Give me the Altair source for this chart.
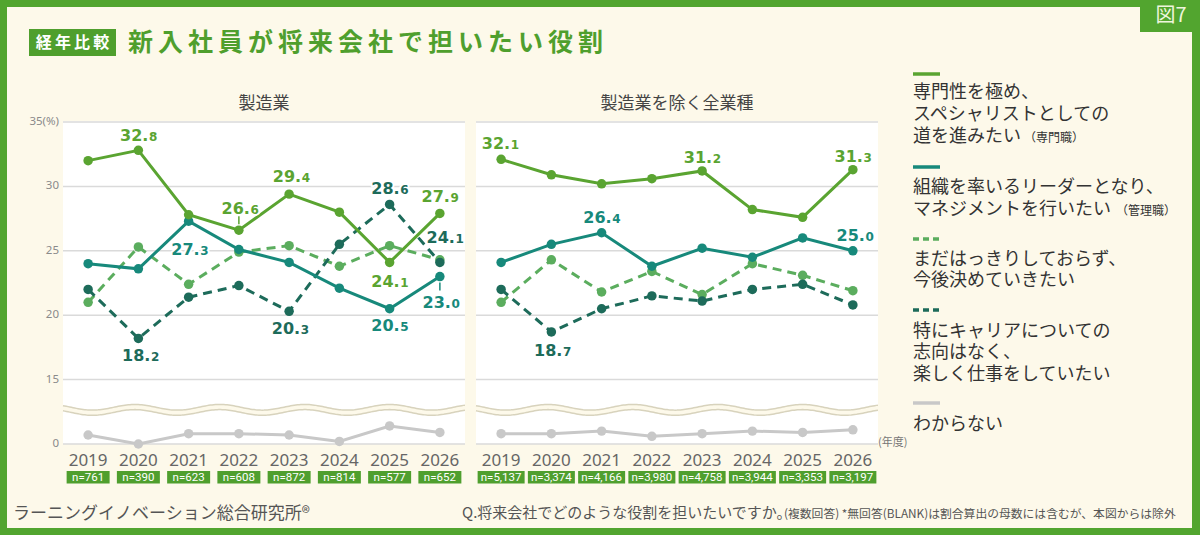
import altair as alt
import numpy as np
import pandas as pd

# ---- data -------------------------------------------------------------
YEARS = [2019, 2020, 2021, 2022, 2023, 2024, 2025, 2026]

# 製造業
MFG_SPECIALIST = [32.0, 32.8, 27.8, 26.6, 29.4, 28.0, 24.1, 27.9]
MFG_MANAGER = [24.0, 23.6, 27.3, 25.1, 24.1, 22.1, 20.5, 23.0]
MFG_UNDECIDED = [21.0, 25.3, 22.4, 24.9, 25.4, 23.8, 25.4, 24.3]
MFG_NO_PREF = [22.0, 18.2, 21.4, 22.3, 20.3, 25.5, 28.6, 24.1]
MFG_UNKNOWN = [0.7, 0.0, 0.8, 0.8, 0.7, 0.2, 1.4, 0.9]
MFG_N = ["n=761", "n=390", "n=623", "n=608", "n=872", "n=814", "n=577", "n=652"]

# 製造業を除く全業種
OTH_SPECIALIST = [32.1, 30.9, 30.2, 30.6, 31.2, 28.2, 27.6, 31.3]
OTH_MANAGER = [24.1, 25.5, 26.4, 23.8, 25.2, 24.5, 26.0, 25.0]
OTH_UNDECIDED = [21.0, 24.3, 21.8, 23.4, 21.6, 24.0, 23.1, 21.9]
OTH_NO_PREF = [22.0, 18.7, 20.5, 21.5, 21.1, 22.0, 22.4, 20.8]
OTH_UNKNOWN = [0.8, 0.8, 1.0, 0.6, 0.8, 1.0, 0.9, 1.1]
OTH_N = ["n=5,137", "n=3,374", "n=4,166", "n=3,980", "n=4,758", "n=3,944", "n=3,353", "n=3,197"]

Y_TICKS = [0, 15, 20, 25, 30, 35]
Y_TICK_LABELS = ["0", "15", "20", "25", "30", "35(%)"]

SERIES_ORDER = ["unknown", "undecided", "no_pref", "manager", "specialist"]

# ---- styles -----------------------------------------------------------
BG = "#fdf9ea"
FRAME = "#52a52f"
TITLE_GREEN = "#4f9f2d"
COLORS = {
    "specialist": "#5aa431",
    "manager": "#17897b",
    "undecided": "#5bad5e",
    "no_pref": "#1d6b5a",
    "unknown": "#c8c8c8",
}
DASHES = {"undecided": [9, 6], "no_pref": [9, 6]}
JP = "Noto Sans CJK JP"
NUM = "DejaVu Sans"

# broken axis: values below 10 stay as they are, 15..35 shift down by 10
BREAK = "datum.value < 10 ? datum.value : datum.value - 10"

rows = []
for panel, table in [
    ("mfg", {"specialist": MFG_SPECIALIST, "manager": MFG_MANAGER, "undecided": MFG_UNDECIDED,
             "no_pref": MFG_NO_PREF, "unknown": MFG_UNKNOWN}),
    ("oth", {"specialist": OTH_SPECIALIST, "manager": OTH_MANAGER, "undecided": OTH_UNDECIDED,
             "no_pref": OTH_NO_PREF, "unknown": OTH_UNKNOWN}),
]:
    for key, vals in table.items():
        for yr, v in zip(YEARS, vals):
            rows.append({"panel": panel, "series": key, "year": yr, "value": v})
df = pd.DataFrame(rows)

ticks_df = pd.DataFrame({"value": Y_TICKS, "label": Y_TICK_LABELS})
ONE = pd.DataFrame({"k": [0]})

# decorative wavy break between 0 and 15
wave_t = np.linspace(2018.5, 2026.5, 241)
wave_phase = 2 * np.pi * (wave_t - 2019.93) / 1.69
wave_df = pd.DataFrame({
    "t": wave_t,
    "top": 2.85 + 0.22 * np.cos(wave_phase),
    "bot": 2.45 + 0.22 * np.cos(wave_phase),
})

# value labels: (series, year, dx, dy) relative to the point
LABELS = {
    "mfg": [
        ("specialist", 2020, 0, -15), ("manager", 2021, 1, 28), ("specialist", 2022, 1, -22),
        ("specialist", 2023, 2, -18), ("no_pref", 2025, 0, -16), ("specialist", 2026, 0, -17),
        ("no_pref", 2026, 5, -25), ("specialist", 2025, 0, 19), ("manager", 2026, 1, 25),
        ("no_pref", 2020, 2, 17), ("no_pref", 2023, 1, 17), ("manager", 2025, 0, 16),
    ],
    "oth": [
        ("specialist", 2019, -1, -16), ("specialist", 2023, 0, -14), ("specialist", 2026, 0, -14),
        ("manager", 2021, 0, -16), ("manager", 2026, 2, -16), ("no_pref", 2020, 1, 18),
    ],
}
# short leader ticks: (series, year, from offset, to offset)
LEADERS = {"mfg": [("specialist", 2022, -6, -14), ("manager", 2026, 6, 14)], "oth": []}


def text_at(text, x, y, size, color, align="left", weight="normal", font=JP, baseline="middle"):
    return alt.Chart(ONE).mark_text(
        text=text, align=align, baseline=baseline, fontSize=size, color=color,
        fontWeight=weight, font=font,
    ).encode(x=alt.value(x), y=alt.value(y))


def rect_at(x, x2, y, y2, color):
    return alt.Chart(ONE).mark_rect(color=color).encode(
        x=alt.value(x), x2=alt.value(x2), y=alt.value(y), y2=alt.value(y2))


def panel(pkey, x0, x1, title, title_x, n_labels, box_w, show_y):
    xs = alt.Scale(domain=[2018.5, 2026.5], range=[x0, x1], nice=False, zero=False)
    ys = alt.Scale(domain=[0, 25], range=[444, 122], nice=False, zero=False)
    X = alt.X("year:Q", scale=xs, axis=None)
    Y = alt.Y("pos:Q", scale=ys, axis=None)
    base = alt.Chart(df).transform_filter(alt.datum.panel == pkey).transform_calculate(pos=BREAK)

    layers = [rect_at(x0, x1, 121, 444, "white")]
    layers.append(
        alt.Chart(ticks_df).transform_calculate(pos=BREAK)
        .mark_rule(color="#dadada", strokeWidth=1.5)
        .encode(y=Y, x=alt.value(x0), x2=alt.value(x1))
    )
    WX = alt.X("t:Q", scale=xs, axis=None)
    layers.append(
        alt.Chart(wave_df).mark_area(color=BG).encode(
            x=WX, y=alt.Y("top:Q", scale=ys, axis=None), y2="bot:Q")
    )
    for col in ["top", "bot"]:
        layers.append(
            alt.Chart(wave_df).mark_line(color="#d8d3bd", strokeWidth=1.5).encode(
                x=WX, y=alt.Y(f"{col}:Q", scale=ys, axis=None))
        )

    for key in SERIES_ORDER:
        sb = base.transform_filter(alt.datum.series == key)
        line_kw = {"strokeDash": DASHES[key]} if key in DASHES else {}
        layers.append(sb.mark_line(color=COLORS[key], strokeWidth=3, **line_kw).encode(x=X, y=Y))
        layers.append(sb.mark_circle(color=COLORS[key], size=90, opacity=1).encode(x=X, y=Y))

    for key, yr, a, b in LEADERS[pkey]:
        layers.append(
            base.transform_filter((alt.datum.series == key) & (alt.datum.year == yr))
            .mark_rule(color=COLORS[key], strokeWidth=1.5, yOffset=a, y2Offset=b)
            .encode(x=X, y=Y, y2=alt.Y2("pos:Q"))
        )

    for key, yr, dx, dy in LABELS[pkey]:
        lb = (
            base.transform_filter((alt.datum.series == key) & (alt.datum.year == yr))
            .transform_calculate(
                big="format(floor(datum.value), 'd') + '.'",
                small="slice(format(datum.value, '.1f'), -1)",
            )
        )
        for halo in (True, False):
            extra = {"stroke": "white", "strokeWidth": 4, "strokeJoin": "round"} if halo else {}
            layers.append(
                lb.mark_text(font=NUM, fontWeight="bold", fontSize=16, align="right",
                             baseline="alphabetic", dx=dx + 10, dy=dy + 6,
                             color=COLORS[key], **extra)
                .encode(x=X, y=Y, text="big:N")
            )
            layers.append(
                lb.mark_text(font=NUM, fontWeight="bold", fontSize=12, align="left",
                             baseline="alphabetic", dx=dx + 10.5, dy=dy + 6,
                             color=COLORS[key], **extra)
                .encode(x=X, y=Y, text="small:N")
            )

    years_df = pd.DataFrame({"year": YEARS, "label": [str(y) for y in YEARS], "n": n_labels})
    layers.append(
        alt.Chart(years_df).mark_text(font="Noto Sans", fontSize=17, color="#666666",
                                      baseline="middle")
        .encode(x=X, y=alt.value(461), text="label:N")
    )
    layers.append(
        alt.Chart(years_df).mark_rect(color="#4f9f2e", xOffset=-box_w / 2, x2Offset=box_w / 2)
        .encode(x=X, x2=alt.X2("year:Q"), y=alt.value(471), y2=alt.value(483.5))
    )
    layers.append(
        alt.Chart(years_df).mark_text(font="Roboto", fontSize=11.5, color="white",
                                      baseline="middle")
        .encode(x=X, y=alt.value(477.5), text="n:N")
    )
    if show_y:
        layers.append(
            alt.Chart(ticks_df).transform_calculate(pos=BREAK)
            .mark_text(font="Noto Sans", fontSize=11.5, color="#8a8a8a", align="right",
                       baseline="middle")
            .encode(x=alt.value(59), y=Y, text="label:N")
        )
    layers.append(text_at(title, title_x, 104, 17, "#444444", align="center"))
    return alt.layer(*layers)


left = panel("mfg", 63, 465, "製造業", 264, MFG_N, 43, True)
right = panel("oth", 476, 878, "製造業を除く全業種", 677, OTH_N, 47, False)

THIN = "\u2009"
decor = [
    rect_at(0, 1200, 0, 7, FRAME),
    rect_at(0, 7, 0, 535, FRAME),
    rect_at(1192, 1200, 0, 535, FRAME),
    rect_at(0, 1200, 528, 535, FRAME),
    rect_at(1140, 1200, 0, 32, FRAME),
    text_at("図7", 1171, 16, 20, "#eef5dc", align="center"),
    rect_at(29, 116, 29, 56, TITLE_GREEN),
    text_at(THIN.join("経年比較"), 72.5, 42.5, 16, "white", align="center", weight="bold"),
    text_at(THIN.join("新入社員が将来会社で担いたい役割"), 128, 43, 25, TITLE_GREEN, weight="bold"),
    text_at("ラーニングイノベーション総合研究所®", 13, 514, 17, "#555555"),
    text_at("Q.将来会社でどのような役割を担いたいですか。", 462, 513, 15, "#555555"),
    text_at("(複数回答) *無回答(BLANK)は割合算出の母数には含むが、本図からは除外", 784, 514, 11.8, "#555555"),
    text_at("(年度)", 878, 443, 11, "#777777"),
]

# legend: (series, swatch y, [(text, y)], suffix, suffix x)
LEGEND = [
    ("specialist", 74, [("専門性を極め、", 93), ("スペシャリストとしての", 115), ("道を進みたい", 137)],
     "（専門職）", 1024),
    ("manager", 167, [("組織を率いるリーダーとなり、", 188), ("マネジメントを行いたい", 210)],
     "（管理職）", 1116),
    ("undecided", 239, [("まだはっきりしておらず、", 260), ("今後決めていきたい", 281)], None, None),
    ("no_pref", 310, [("特にキャリアについての", 332), ("志向はなく、", 353),
                      ("楽しく仕事をしていたい", 375)], None, None),
    ("unknown", 403, [("わからない", 425)], None, None),
]
legend = []
for key, sy, lines, suffix, sx in LEGEND:
    kw = {"strokeDash": [6, 4]} if key in DASHES else {}
    legend.append(
        alt.Chart(ONE).mark_rule(color=COLORS[key], strokeWidth=3.5, **kw)
        .encode(x=alt.value(913), x2=alt.value(940), y=alt.value(sy))
    )
    for t, ty in lines:
        legend.append(text_at(t, 913, ty, 18, "#333333"))
    if suffix:
        legend.append(text_at(suffix, sx, lines[-1][1] + 1, 12, "#333333"))

chart = (
    alt.layer(*decor, left, right, *legend)
    .resolve_scale(x="independent", y="independent")
    .properties(width=1200, height=535, padding=0, background=BG,
                autosize=alt.AutoSizeParams(type="none"))
    .configure_view(strokeWidth=0)
)

chart.save("out.html", embed_options={"renderer": "svg", "actions": False})
